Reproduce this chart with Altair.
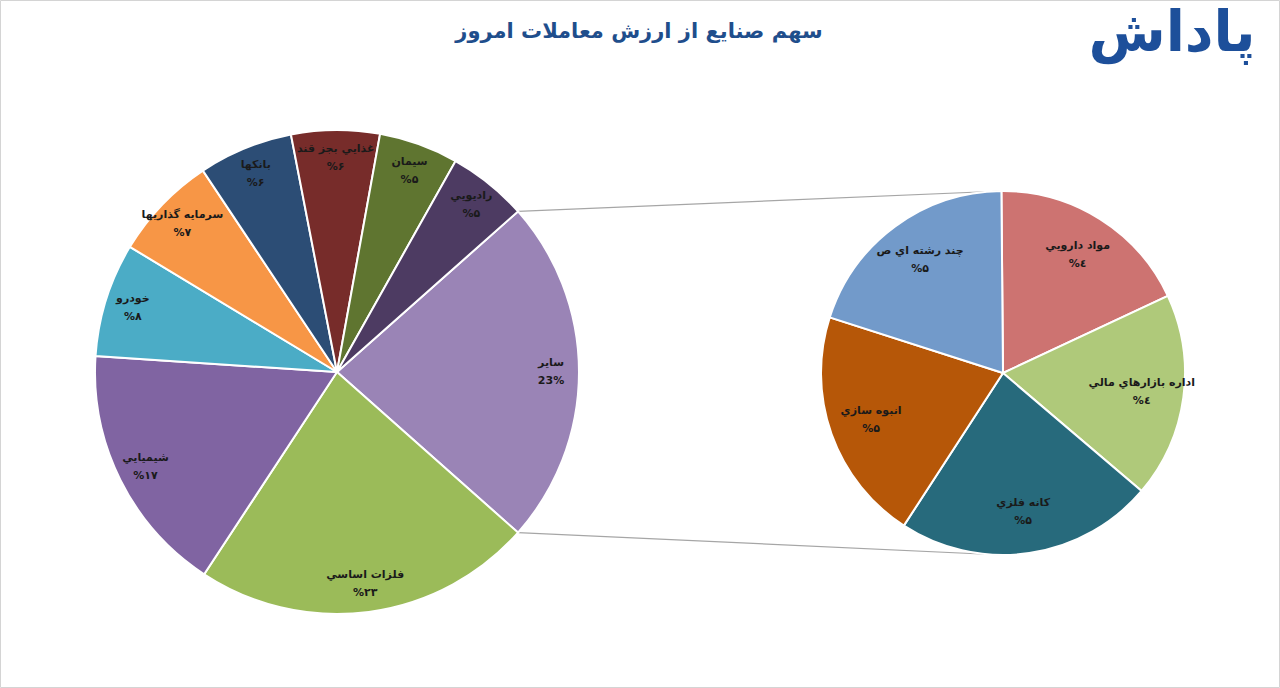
import math
import altair as alt
import pandas as pd

title_text = "سهم صنایع از ارزش معاملات امروز"
logo_text = "پاداش"

main_names = ["سایر", "فلزات اساسي", "شيميايي", "خودرو", "سرمايه گذاريها",
              "بانكها", "غذايي بجز قند", "سيمان", "راديويي"]
main_values = [23.1, 22.7, 16.8, 7.6, 7.0, 6.3, 5.9, 5.3, 5.3]
main_pct = ["23%", "%۲۳", "%۱۷", "%۸", "%۷", "%۶", "%۶", "%۵", "%۵"]
main_colors = ["#9a84b6", "#9bbb59", "#8064a2", "#4bacc6", "#f79646",
               "#2c4d75", "#772c2a", "#5f7530", "#4d3b62"]

sub_names = ["مواد دارويي", "اداره بازارهاي مالي", "كانه فلزي", "انبوه سازي", "چند رشته اي ص"]
sub_values = [4.2, 4.2, 5.3, 4.8, 4.6]
sub_pct = ["%٤", "%٤", "%۵", "%۵", "%۵"]
sub_colors = ["#cd7371", "#afc97a", "#276a7c", "#b65708", "#729aca"]

W, H = 1280, 688
FONT = "DejaVu Sans"

# layout
LCX, LCY, LR = 337, 372, 242
RCX, RCY, RR = 1003, 373, 182

main_df = pd.DataFrame({"name": main_names, "value": main_values,
                        "pct": main_pct, "idx": list(range(len(main_names)))})
sub_df = pd.DataFrame({"name": sub_names, "value": sub_values,
                       "pct": sub_pct, "idx": list(range(len(sub_names)))})

# left pie: "other" slice centred on the right-hand side
other_share = main_values[0] / sum(main_values)
l_start = math.pi / 2 - other_share * math.pi
r_start = 2 * math.pi - math.radians(0.5)


def pie_layers(df, colors, cx, cy, r, start, label_r):
    theta = alt.Theta("value:Q", stack=True,
                      scale=alt.Scale(range=[start, start + 2 * math.pi]))
    base = alt.Chart(df).encode(
        theta=theta,
        order=alt.Order("idx:Q"),
        x=alt.value(cx), y=alt.value(cy),
    )
    arcs = base.mark_arc(outerRadius=r, stroke="white", strokeWidth=2).encode(
        color=alt.Color("name:N", legend=None,
                        scale=alt.Scale(domain=list(df["name"]), range=colors))
    )
    names = base.mark_text(radius=label_r, dy=-9, font=FONT, fontSize=11,
                           fontWeight="bold", color="#1a1a1a").encode(text="name:N")
    pcts = base.mark_text(radius=label_r, dy=9, font=FONT, fontSize=11,
                          fontWeight="bold", color="#1a1a1a").encode(text="pct:N")
    return [arcs, names, pcts]


one = pd.DataFrame({"a": [0]})

tip_top = (LCX + LR * math.sin(l_start), LCY - LR * math.cos(l_start))
tip_bot = (LCX + LR * math.sin(math.pi - l_start), LCY - LR * math.cos(math.pi - l_start))

conn_top = alt.Chart(one).mark_rule(color="#a6a6a6", strokeWidth=1.2).encode(
    x=alt.value(tip_top[0]), y=alt.value(tip_top[1]),
    x2=alt.value(RCX), y2=alt.value(RCY - RR))
conn_bot = alt.Chart(one).mark_rule(color="#a6a6a6", strokeWidth=1.2).encode(
    x=alt.value(tip_bot[0]), y=alt.value(tip_bot[1]),
    x2=alt.value(RCX), y2=alt.value(RCY + RR))

title = alt.Chart(pd.DataFrame({"t": [title_text]})).mark_text(
    font=FONT, fontSize=21, fontWeight="bold", color="#1f4e8c",
    align="center", baseline="middle").encode(
    text="t:N", x=alt.value(639), y=alt.value(32))

logo = alt.Chart(pd.DataFrame({"t": [logo_text]})).mark_text(
    font=FONT, fontSize=56, fontWeight="bold", color="#1d4f9a",
    align="center", baseline="middle").encode(
    text="t:N", x=alt.value(1172), y=alt.value(34))

border = alt.Chart(one).mark_rect(fillOpacity=0, stroke="#d4d4d4", strokeWidth=1).encode(
    x=alt.value(0.5), x2=alt.value(W - 0.5), y=alt.value(0.5), y2=alt.value(H - 0.5))

layers = [border, conn_top, conn_bot]
layers += pie_layers(main_df, main_colors, LCX, LCY, LR, l_start, 214)
layers += pie_layers(sub_df, sub_colors, RCX, RCY, RR, r_start, 140)
layers += [title, logo]

chart = alt.layer(*layers).resolve_scale(
    theta="independent", color="independent"
).properties(
    width=W, height=H, padding=0, autosize=alt.AutoSizeParams(type="none"),
    background="white"
).configure_view(stroke=None)

chart.save("out.html", embed_options={"renderer": "svg", "actions": False})
